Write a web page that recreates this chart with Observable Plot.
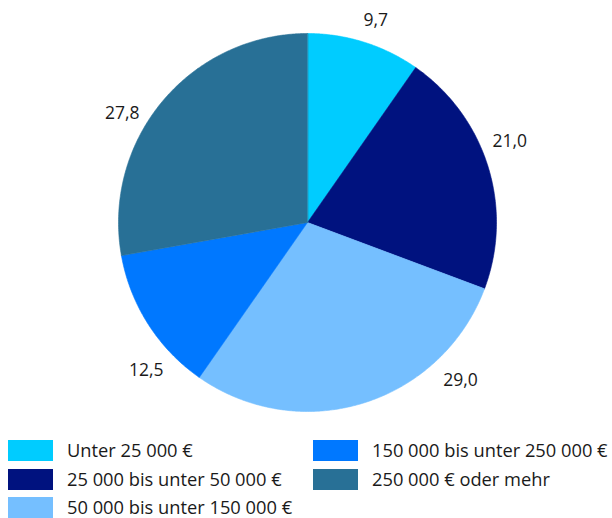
<!DOCTYPE html>
<html>
<head>
<meta charset="utf-8">
<script src="https://cdn.jsdelivr.net/npm/d3@7"></script>
<script src="https://cdn.jsdelivr.net/npm/@observablehq/plot@0.6"></script>
<style>
  html, body { margin: 0; padding: 0; background: #fff; }
  body { width: 612px; height: 518px; overflow: hidden; font-family: "Open Sans", Lato, sans-serif; color: #1a1a1a; }
  #chart { position: absolute; left: 0; top: 0; }
  .legend { position: absolute; left: 0; top: 0; width: 612px; }
  .item { position: absolute; display: flex; align-items: center; font-size: 18.3px; line-height: 1; white-space: nowrap; height: 21px; }
  .sw { width: 45px; height: 21px; margin-right: 14px; flex: none; }
</style>
</head>
<body>
<div id="chart"></div>
<div class="legend" id="legend"></div>
<script>
const categories = ["Unter 25 000 €", "25 000 bis unter 50 000 €", "50 000 bis unter 150 000 €", "150 000 bis unter 250 000 €", "250 000 € oder mehr"];
const values = [9.7, 21.0, 29.0, 12.5, 27.8];
const valueLabels = ["9,7", "21,0", "29,0", "12,5", "27,8"];
const colors = ["#00CCFF", "#00127F", "#75BFFF", "#0078FF", "#287096"];

// layout
const W = 612, H = 432;
const cx = 307, cy = 222, R = 189;
const labelAngleNudge = [1.2, -4.6, -26.8, -10, -9.5]; // degrees
const labelRadius = [213, 218, 220, 219, 215];

const arcs = d3.pie().sort(null).startAngle(0).endAngle(2 * Math.PI)(values);

const pts = [];
arcs.forEach((a, i) => {
  const cat = categories[i];
  pts.push({x: cx, y: cy, cat});
  const n = Math.max(2, Math.ceil((a.endAngle - a.startAngle) / (Math.PI / 360)));
  for (let k = 0; k <= n; k++) {
    const t = a.startAngle + (a.endAngle - a.startAngle) * k / n;
    pts.push({x: cx + R * Math.sin(t), y: cy - R * Math.cos(t), cat});
  }
});

const lbl = arcs.map((a, i) => {
  const t = (a.startAngle + a.endAngle) / 2 + labelAngleNudge[i] * Math.PI / 180;
  return {x: cx + labelRadius[i] * Math.sin(t), y: cy - labelRadius[i] * Math.cos(t), text: valueLabels[i]};
});

const chart = Plot.plot({
  width: W, height: H,
  margin: 0,
  x: {domain: [0, W], range: [0, W], axis: null},
  y: {domain: [0, H], range: [0, H], axis: null},
  color: {domain: categories, range: colors},
  style: {fontFamily: "'Open Sans', Lato, sans-serif", background: "white"},
  marks: [
    Plot.line(pts, {x: "x", y: "y", z: "cat", fill: "cat", stroke: "cat", strokeWidth: 0.6, curve: "linear-closed"}),
    Plot.text(lbl, {x: "x", y: "y", text: "text", fontSize: 17.5, fill: "#1a1a1a", textAnchor: "middle", lineAnchor: "middle"})
  ]
});
document.getElementById("chart").appendChild(chart);

// legend
const legendPos = [[8, 440], [8, 469], [8, 497], [313, 440], [313, 469]];
const leg = document.getElementById("legend");
categories.forEach((c, i) => {
  const d = document.createElement("div");
  d.className = "item";
  d.style.left = legendPos[i][0] + "px";
  d.style.top = legendPos[i][1] + "px";
  const s = document.createElement("span");
  s.className = "sw";
  s.style.background = colors[i];
  d.appendChild(s);
  d.appendChild(document.createTextNode(c));
  leg.appendChild(d);
});
</script>
</body>
</html>
